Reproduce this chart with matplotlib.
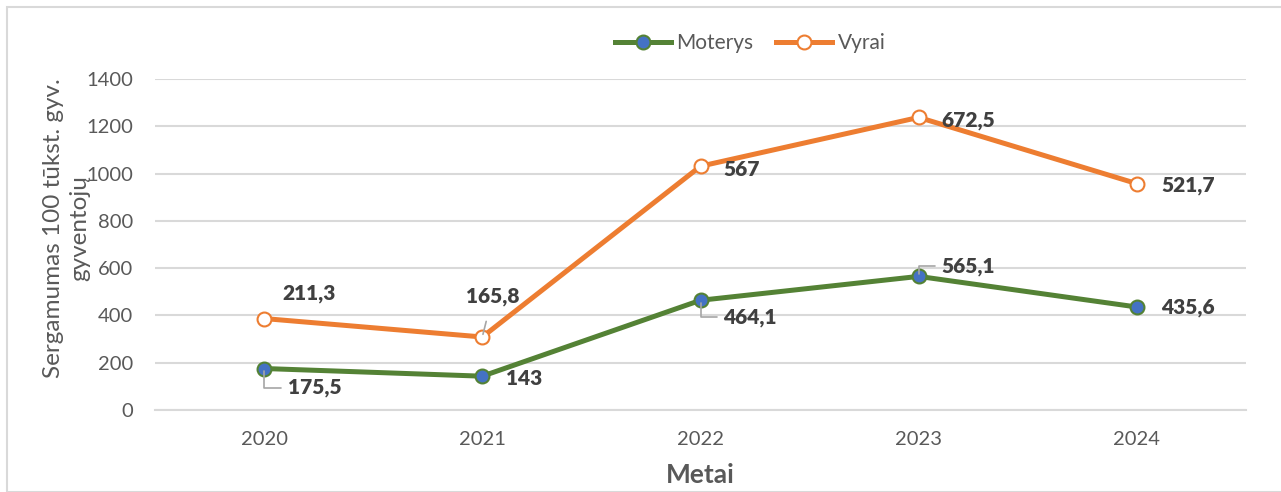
import matplotlib
matplotlib.use("Agg")
import matplotlib.pyplot as plt
from matplotlib.patches import Rectangle
import numpy as np

plt.rcParams["font.family"] = ["Lato", "DejaVu Sans"]

years = ["2020", "2021", "2022", "2023", "2024"]
moterys = [175.5, 143, 464.1, 565.1, 435.6]
vyrai = [211.3, 165.8, 567, 672.5, 521.7]
moterys_labels = ["175,5", "143", "464,1", "565,1", "435,6"]
vyrai_labels = ["211,3", "165,8", "567", "672,5", "521,7"]

GREEN = "#548235"
ORANGE = "#ED7D31"
BLUE = "#4472C4"
GRID = "#d9d9d9"
TICK = "#595959"
LABEL = "#404040"
LEADER = "#a6a6a6"

x = np.arange(len(years))
# stacked line chart: Vyrai drawn on top of Moterys
vyrai_top = np.array(moterys) + np.array(vyrai)

fig = plt.figure(figsize=(12.81, 4.92), dpi=100)
ax = fig.add_axes([155 / 1281, 1 - 410 / 492, (1246 - 155) / 1281, (410 - 79) / 492])

ax.plot(x, moterys, color=GREEN, lw=3.6, marker="o", ms=10,
        mfc=BLUE, mec=GREEN, mew=1.5, label="Moterys", zorder=3)
ax.plot(x, vyrai_top, color=ORANGE, lw=3.6, marker="o", ms=10,
        mfc="white", mec=ORANGE, mew=1.5, label="Vyrai", zorder=3)

ax.set_xlim(-0.5, len(years) - 0.5)
ax.set_ylim(0, 1400)
ax.set_yticks(range(0, 1401, 200))
ax.set_xticks(x)
ax.set_xticklabels(years)
ax.yaxis.grid(True, color=GRID, lw=1.5)
ax.set_axisbelow(True)
for s in ["left", "right", "top"]:
    ax.spines[s].set_visible(False)
ax.spines["bottom"].set_color(GRID)
ax.spines["bottom"].set_linewidth(1.5)
ax.tick_params(axis="both", length=0, labelsize=14.5, labelcolor=TICK)
ax.tick_params(axis="y", pad=16)
ax.tick_params(axis="x", pad=15)

# data labels: (dx, dy) in pixels, leader style
m_offsets = [(24, -19), (24, -2), (23, -17), (23, 10), (24, 0)]
m_leader = [True, False, True, True, False]
v_offsets = [(18, 25), (10, 40), (23, -3), (23, -3), (24, -2)]
v_leader = [False, True, False, False, False]

lbl_kw = dict(textcoords="offset pixels", fontsize=15, fontweight="heavy",
              color=LABEL, va="center")

for i in range(len(years)):
    dx, dy = m_offsets[i]
    arrow = None
    if m_leader[i]:
        arrow = dict(arrowstyle="-", color=LEADER, lw=1.2, shrinkA=3, shrinkB=2,
                     connectionstyle="angle,angleA=0,angleB=90,rad=0")
    ax.annotate(moterys_labels[i], (x[i], moterys[i]), xytext=(dx, dy),
                ha="left", arrowprops=arrow, **lbl_kw)

for i in range(len(years)):
    dx, dy = v_offsets[i]
    if v_leader[i]:
        ax.annotate(vyrai_labels[i], (x[i], vyrai_top[i]), xytext=(dx, dy),
                    ha="center",
                    arrowprops=dict(arrowstyle="-", color=LEADER, lw=1.2,
                                    shrinkA=9, shrinkB=2),
                    **lbl_kw)
    else:
        ax.annotate(vyrai_labels[i], (x[i], vyrai_top[i]), xytext=(dx, dy),
                    ha="left", **lbl_kw)

fig.text(67 / 1281, 1 - 228 / 492, "Sergamumas 100 tūkst. gyv.\ngyventojų",
         rotation=90, ha="center", va="center", multialignment="center",
         fontsize=17.5, color=TICK, linespacing=1.3)
fig.text(700 / 1281, 1 - 475 / 492, "Metai", ha="center", va="center",
         fontsize=19, fontweight="bold", color=TICK)

fig.legend(loc="center", bbox_to_anchor=(750 / 1281, 1 - 43 / 492), ncol=2,
           frameon=False, fontsize=15, handlelength=2.7, handletextpad=0.25,
           columnspacing=1.1, labelcolor=TICK)

fig.patches.append(Rectangle((7 / 1281, 0), 1.0, 1 - 7 / 492, transform=fig.transFigure,
                             fill=False, edgecolor=GRID, lw=1.5, zorder=0))

fig.savefig("out.png", dpi=100)
